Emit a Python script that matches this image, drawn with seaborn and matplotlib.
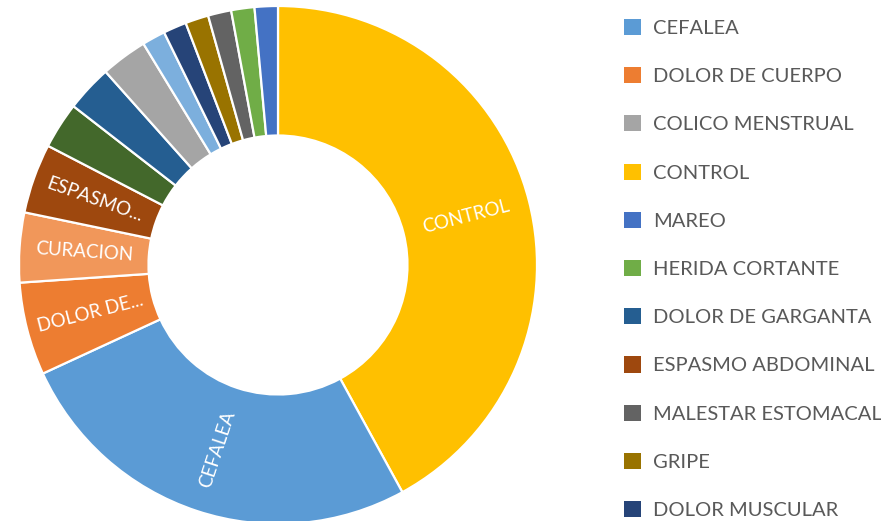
import matplotlib.pyplot as plt
import seaborn as sns
import numpy as np
from matplotlib.patches import Patch

# data, in the order the slices are drawn (clockwise from 12 o'clock)
categories = ["CONTROL", "CEFALEA", "DOLOR DE CUERPO", "CURACION", "ESPASMO ABDOMINAL",
              "OTRO 1", "DOLOR DE GARGANTA", "COLICO MENSTRUAL", "OTRO 2",
              "DOLOR MUSCULAR", "GRIPE", "MALESTAR ESTOMACAL", "HERIDA CORTANTE", "MAREO"]
counts = [29, 18, 4, 3, 3, 2, 2, 2, 1, 1, 1, 1, 1, 1]
colors = ["#FFC000", "#5B9BD5", "#ED7D31", "#F1975A", "#9E480E",
          "#43682B", "#255E91", "#A5A5A5", "#7CAFDD",
          "#264478", "#997300", "#636363", "#70AD47", "#4472C4"]
slice_labels = ["CONTROL", "CEFALEA", "DOLOR DE...", "CURACION", "ESPASMO...",
                "", "", "", "", "", "", "", "", ""]

# legend order (only these are visible in the picture)
legend_names = ["CEFALEA", "DOLOR DE CUERPO", "COLICO MENSTRUAL", "CONTROL", "MAREO",
                "HERIDA CORTANTE", "DOLOR DE GARGANTA", "ESPASMO ABDOMINAL",
                "MALESTAR ESTOMACAL", "GRIPE", "DOLOR MUSCULAR"]

sns.set_style("white")
plt.rcParams['font.family'] = ['Lato', 'DejaVu Sans']

fig = plt.figure(figsize=(8.81, 5.21), dpi=100)
ax = fig.add_axes([19 / 881, -3 / 521, 518 / 881, 518 / 521])

wedges, _ = ax.pie(counts, colors=colors, startangle=90, counterclock=False,
                   radius=1.0,
                   wedgeprops=dict(width=0.5, edgecolor="white", linewidth=1.6))
ax.set_xlim(-1, 1)
ax.set_ylim(-1, 1)
ax.set_aspect("auto")
ax.axis("off")

# labels inside the big slices, rotated along the radius
for w, lab in zip(wedges, slice_labels):
    if not lab:
        continue
    mid = (w.theta1 + w.theta2) / 2.0
    rad = np.deg2rad(mid)
    x, y = 0.75 * np.cos(rad), 0.75 * np.sin(rad)
    rot = (mid + 180) % 360 - 180
    if rot > 90:
        rot -= 180
    elif rot < -90:
        rot += 180
    ax.text(x, y, lab, color="white", fontsize=13.5, rotation=rot,
            rotation_mode="anchor", ha="center", va="center")

color_of = dict(zip(categories, colors))
handles = [Patch(facecolor=color_of[n], edgecolor="none") for n in legend_names]
fig.legend(handles, legend_names, loc="upper left", bbox_to_anchor=(624 / 881, 1 - 19 / 521),
           frameon=False, fontsize=14.5, labelcolor="#595959",
           handlelength=0.85, handleheight=0.85, handletextpad=0.6,
           labelspacing=1.5, borderpad=0, borderaxespad=0)

fig.savefig("out.png", dpi=100, facecolor="white")
